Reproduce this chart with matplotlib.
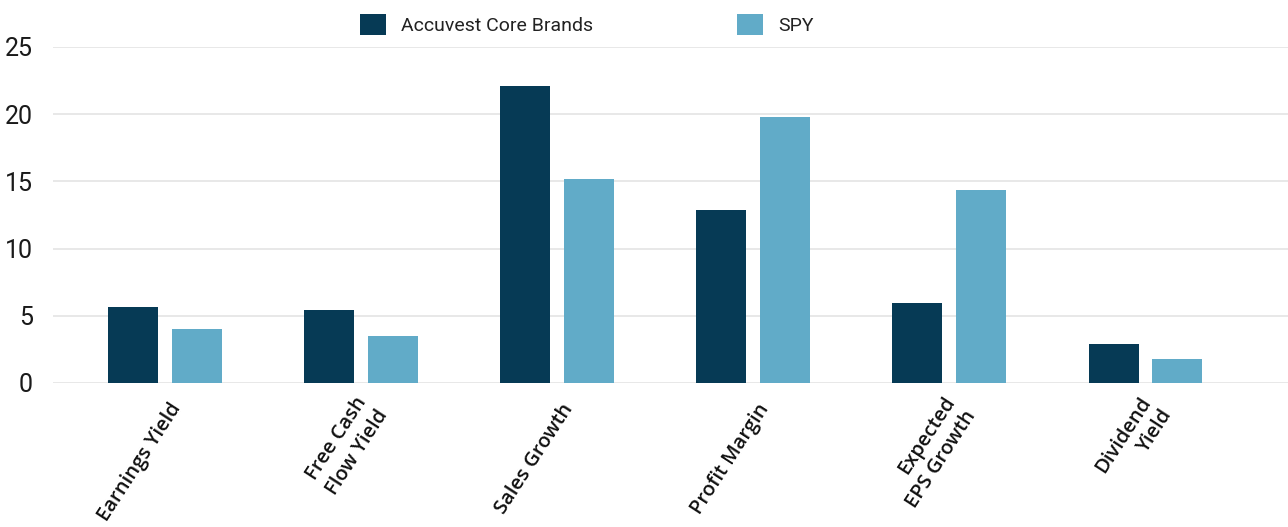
import matplotlib
matplotlib.use("Agg")
import matplotlib.pyplot as plt
from matplotlib.patches import Patch
from matplotlib.transforms import ScaledTranslation
import numpy as np

categories = ["Earnings Yield", "Free Cash\nFlow Yield", "Sales Growth",
              "Profit Margin", "Expected\nEPS Growth", "Dividend\nYield"]
accuvest = [5.65, 5.45, 22.1, 12.85, 5.95, 2.9]
spy = [4.05, 3.5, 15.2, 19.8, 14.35, 1.8]
series_names = ["Accuvest Core Brands", "SPY"]
yticks = [0, 5, 10, 15, 20, 25]

dark = "#063a55"
light = "#61abc8"

fig = plt.figure(figsize=(12.88, 5.27), dpi=100)
ax = fig.add_axes([53/1288, (527-383)/527, 1 - 53/1288, (383-47)/527])

x = np.arange(len(categories))
w = 0.255
off = 0.163
ax.bar(x - off, accuvest, width=w, color=dark, zorder=3)
ax.bar(x + off, spy, width=w, color=light, zorder=3)

ax.set_xlim(-0.5711, 5.7267)
ax.set_ylim(0, 25)
ax.set_yticks(yticks)
ax.set_yticklabels([str(v) for v in yticks], fontsize=18, color="#1a1a1a",
                   family="Roboto", fontweight="normal")
ax.tick_params(axis="y", length=0, pad=14.4)
ax.grid(axis="y", color="#e4e4e4", linewidth=1.2, zorder=0)
ax.set_axisbelow(True)
for s in ax.spines.values():
    s.set_visible(False)

ax.set_xticks(x)
ax.set_xticklabels(categories, rotation=57, ha="right", va="center",
                   rotation_mode="anchor", multialignment="right",
                   fontsize=14.5, color="#111111", family="Open Sans",
                   fontweight="semibold", linespacing=1.3)
ax.tick_params(axis="x", length=0, pad=16)
shift = ScaledTranslation(12/100, 0, fig.dpi_scale_trans)
for lab in ax.get_xticklabels():
    lab.set_transform(lab.get_transform() + shift)

handles = [Patch(facecolor=dark), Patch(facecolor=light)]
fig.legend(handles, series_names, loc="center", bbox_to_anchor=(587/1288, 1 - 24.5/527),
           ncol=2, frameon=False, prop={"family": "Roboto", "size": 14},
           handlelength=1.3, handleheight=1.3, handletextpad=0.8,
           columnspacing=7.4, labelcolor="#222222")

fig.savefig("out.png", dpi=100)
